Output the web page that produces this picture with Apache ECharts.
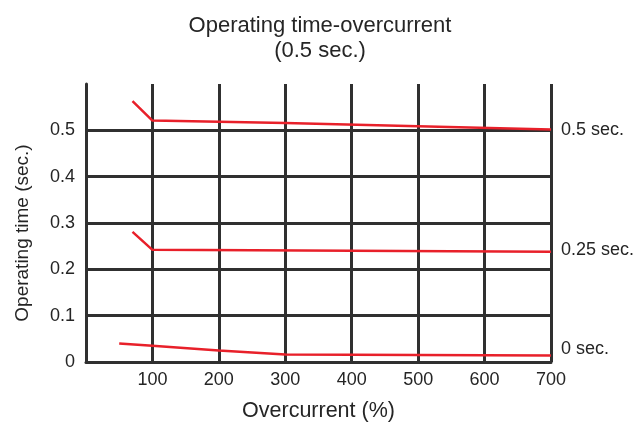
<!DOCTYPE html>
<html>
<head>
<meta charset="utf-8">
<script src="https://cdn.jsdelivr.net/npm/echarts@6/dist/echarts.min.js"></script>
<style>html,body{margin:0;padding:0;background:#fff}#c{width:640px;height:422px}</style>
</head>
<body>
<div id="c"></div>
<script>
var seriesNames = ['0.5 sec.', '0.25 sec.', '0 sec.'];
var curve05 = [[70, 0.563], [100, 0.521], [300, 0.516], [700, 0.502]];
var curve025 = [[70, 0.281], [100, 0.242], [700, 0.238]];
var curve0 = [[50, 0.040], [100, 0.035], [200, 0.025], [300, 0.016], [700, 0.014]];
var xTicks = [0, 100, 200, 300, 400, 500, 600, 700];
var yTicks = [0, 0.1, 0.2, 0.3, 0.4, 0.5, 0.6];

var FONT = '"Liberation Sans", Arial, sans-serif';
var GRID = '#303030';
var RED = '#e8202a';
var TXT = '#252525';
var labelOffsets = [[4, 1], [4, -2], [4, -6]];
var datasets = [curve05, curve025, curve0];

var chart = echarts.init(document.getElementById('c'), null, {renderer: 'canvas'});
chart.setOption({
  animation: false,
  backgroundColor: '#ffffff',
  textStyle: {fontFamily: FONT},
  title: {
    text: 'Operating time-overcurrent\n(0.5 sec.)',
    left: 'center',
    top: 8,
    textStyle: {fontFamily: FONT, fontSize: 22, fontWeight: 'normal', color: TXT, lineHeight: 25}
  },
  grid: {left: 86, right: 89, top: 84, bottom: 60, outerBoundsMode: 'none', containLabel: false},
  xAxis: {
    type: 'value',
    min: xTicks[0],
    max: xTicks[xTicks.length - 1],
    interval: 100,
    name: 'Overcurrent (%)',
    nameLocation: 'middle',
    nameGap: 38,
    nameTextStyle: {fontFamily: FONT, fontSize: 21.5, color: TXT},
    axisLine: {show: true, lineStyle: {color: GRID, width: 3}},
    axisTick: {show: false},
    axisLabel: {
      fontFamily: FONT, fontSize: 18, color: TXT, margin: 9,
      formatter: function (v) { return v === 0 ? '' : String(v); }
    },
    splitLine: {show: true, lineStyle: {color: GRID, width: 3}}
  },
  yAxis: {
    type: 'value',
    min: yTicks[0],
    max: yTicks[yTicks.length - 1],
    interval: 0.1,
    name: 'Operating time (sec.)',
    nameLocation: 'middle',
    nameGap: 54,
    nameRotate: 90,
    nameTextStyle: {fontFamily: FONT, fontSize: 19, color: TXT, padding: [0, 20, 0, 0]},
    axisLine: {show: true, lineStyle: {color: GRID, width: 3}},
    axisTick: {show: false},
    axisLabel: {
      fontFamily: FONT, fontSize: 18, color: TXT, margin: 11,
      padding: [6, 0, 0, 0],
      showMaxLabel: false,
      formatter: function (v) { return v === 0 ? '0' : v.toFixed(1); }
    },
    splitLine: {show: true, showMaxLine: false, lineStyle: {color: GRID, width: 3}}
  },
  series: datasets.map(function (d, i) {
    return {
      name: seriesNames[i],
      type: 'line',
      data: d,
      symbol: 'none',
      lineStyle: {color: RED, width: 2.5},
      z: 5,
      endLabel: {
        show: true,
        formatter: '{a}',
        fontFamily: FONT,
        fontSize: 18,
        color: TXT,
        distance: 6,
        offset: labelOffsets[i]
      }
    };
  })
});
</script>
</body>
</html>
